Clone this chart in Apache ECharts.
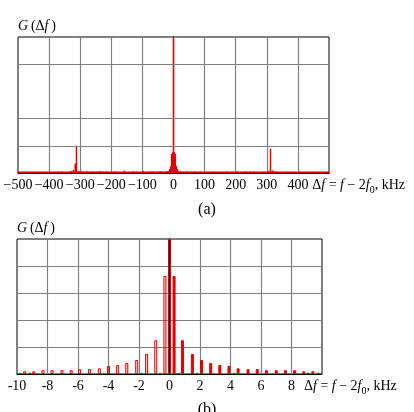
<!DOCTYPE html>
<html>
<head>
  <meta charset="utf-8">
  <title>spectrum</title>
  <script src="https://cdn.jsdelivr.net/npm/echarts@6/dist/echarts.min.js"></script>
  <style>
    html, body { margin: 0; padding: 0; background: #fff; }
    #main { width: 414px; height: 412px; }
  </style>
</head>
<body>
  <div id="main"></div>
  <script type="text/javascript">
    // (a) spectrum, -500..500 kHz
    var freqA = [0, -3, 3, -6, 6, -9, 9, -12, 12, -16, 16,
      -312, -316, -322, -305, 312, 306, 318, 324,
      -397, -370, -360, -340, -330, -295, -288, -279, -270, -258, -247, -236, -228, -215, -200,
      -188, -175, -158, -140, -129, -118, -108, -97, -81, -72, -65, -52, -43, -35, -22,
      22, 30, 42, 55, 68, 85, 100, 128, 150, 171, 190, 205, 214, 230, 245, 257, 275, 290,
      332, 348, 364, 385, 407, 430, 450, 471, 490]
    var ampA = [5, 0.76, 0.76, 0.7, 0.7, 0.25, 0.25, 0.15, 0.15, 0.08, 0.08,
      1.0, 0.35, 0.12, 0.08, 0.9, 0.08, 0.1, 0.06,
      0.05, 0.05, 0.06, 0.04, 0.08, 0.06, 0.05, 0.07, 0.05, 0.06, 0.05, 0.07, 0.05, 0.06, 0.04,
      0.06, 0.04, 0.09, 0.04, 0.06, 0.05, 0.04, 0.07, 0.05, 0.06, 0.06, 0.05, 0.07, 0.05, 0.07,
      0.06, 0.05, 0.07, 0.05, 0.06, 0.05, 0.04, 0.05, 0.04, 0.06, 0.04, 0.07, 0.05, 0.06, 0.05, 0.06, 0.04, 0.05,
      0.05, 0.04, 0.05, 0.04, 0.05, 0.04, 0.05, 0.05, 0.04]
    // 噪声底
    var floorX = [-500, 500]
    var floorY = [0.03, 0.03]
    // (a) 的水平网格线 (3 那一条没有)
    var gridLinesA = [1, 2, 4]

    // (b) spectrum, -10..10 kHz
    var freqB = [-9.8, -9.5, -9.15, -8.9, -8.3, -7.7, -7.05, -6.45, -5.9, -5.25, -4.6, -4.3, -4.0,
      -3.4, -2.8, -2.15, -1.85, -1.5, -0.9, -0.6, -0.3, 0, 0.3, 0.6, 0.85, 1.5, 1.8, 2.1, 2.7,
      3.3, 3.9, 4.25, 4.5, 5.15, 5.75, 6.35, 7.0, 7.6, 8.2, 8.8, 9.1, 9.4, 9.75]
    var ampB = [0.04, 0.1, 0.05, 0.1, 0.14, 0.14, 0.14, 0.14, 0.18, 0.18, 0.21, 0.04, 0.3,
      0.33, 0.41, 0.52, 0.04, 0.74, 1.25, 0.04, 3.63, 5, 3.63, 0.04, 1.25, 0.74, 0.04, 0.52, 0.41,
      0.33, 0.3, 0.04, 0.21, 0.18, 0.18, 0.14, 0.14, 0.14, 0.14, 0.1, 0.05, 0.1, 0.05]

    var RED = '#e00000'
    var GRAY = '#808080'
    var FONT = 'Liberation Serif'

    function pairs(xs, ys) {
      var out = []
      for (var i = 0; i < xs.length; i++) out.push([xs[i], ys[i]])
      return out
    }

    var dataB = []
    for (var i = 0; i < freqB.length; i++) {
      dataB.push({
        value: [freqB[i], ampB[i]],
        itemStyle: { color: freqB[i] > 0.1 ? RED : 'rgba(230,0,0,0.12)' }
      })
    }

    var xName = '{d|\u0394}{i|f} = {i|f} \u2212 2{i|f}{s|0}, kHz'
    var yName = '{i|G}\u2009(\u0394{i|f}\u2009)'
    var rich = {
      i: { fontFamily: FONT, fontSize: 14, fontStyle: 'italic', color: '#000' },
      d: { fontFamily: FONT, fontSize: 14, color: '#000' },
      s: { fontFamily: FONT, fontSize: 10, color: '#000', padding: [9, 0, 0, 0] }
    }

    function xAxisCfg(idx, min, max, step, minus, gap) {
      return {
        gridIndex: idx, type: 'value', min: min, max: max, interval: step,
        axisLine: { show: true, onZero: false, lineStyle: { color: '#000', width: 1 } },
        axisTick: { show: false },
        axisLabel: {
          margin: 5, color: '#000', fontFamily: FONT, fontSize: 14,
          formatter: function (v) {
            if (v === max) return ''
            return minus ? String(v).replace('-', '\u2212') : String(v)
          }
        },
        splitLine: { show: true, showMinLine: false, showMaxLine: false, lineStyle: { color: GRAY, width: 1.2 } },
        name: xName, nameLocation: 'end', nameGap: gap,
        nameTextStyle: { fontFamily: FONT, fontSize: 14, color: '#000', align: 'left', verticalAlign: 'top', padding: [3, 0, 0, 0], rich: rich }
      }
    }

    function yAxisCfg(idx, split) {
      return {
        gridIndex: idx, type: 'value', min: 0, max: 5, interval: 1,
        axisLine: { show: true, lineStyle: { color: '#000', width: 1 } },
        axisTick: { show: false },
        axisLabel: { show: false },
        splitLine: { show: split, showMinLine: false, showMaxLine: false, lineStyle: { color: GRAY, width: 1.2 } }
      }
    }

    var titleStyle = { fontFamily: FONT, fontSize: 16, fontWeight: 'normal', color: '#000' }
    var nameStyle = { fontFamily: FONT, fontSize: 14, fontWeight: 'normal', color: '#000', rich: rich }

    var myChart = echarts.init(document.getElementById('main'), null, { renderer: 'canvas' })

    var option = {
      backgroundColor: '#fff',
      animation: false,
      title: [
        { text: '(a)', left: 'center', top: 202, padding: 0, textStyle: titleStyle },
        { text: '(b)', left: 'center', top: 402, padding: 0, textStyle: titleStyle },
        { text: yName, left: 18, top: 19, padding: 0, textStyle: nameStyle },
        { text: yName, left: 17, top: 221, padding: 0, textStyle: nameStyle }
      ],
      grid: [
        { left: 18, width: 311, top: 37, height: 136, show: true, borderColor: '#000', borderWidth: 1, backgroundColor: 'transparent' },
        { left: 17, width: 305, top: 239, height: 135, show: true, borderColor: '#000', borderWidth: 1, backgroundColor: 'transparent' }
      ],
      xAxis: [xAxisCfg(0, -500, 500, 100, true, -17), xAxisCfg(1, -10, 10, 2, false, -18)],
      yAxis: [yAxisCfg(0, false), yAxisCfg(1, true)],
      series: [
        {
          // 噪声底 + (a) 的网格线
          type: 'line', xAxisIndex: 0, yAxisIndex: 0, z: 1,
          data: pairs(floorX, floorY), symbol: 'none',
          lineStyle: { color: RED, width: 1.5 },
          markLine: {
            silent: true, symbol: 'none', label: { show: false },
            lineStyle: { color: GRAY, width: 1.2, type: 'solid' },
            data: gridLinesA.map(function (v) { return { yAxis: v } })
          }
        },
        {
          type: 'bar', xAxisIndex: 0, yAxisIndex: 0, z: 3,
          data: pairs(freqA, ampA), barWidth: 1.5,
          itemStyle: { color: RED }
        },
        {
          type: 'bar', xAxisIndex: 1, yAxisIndex: 1, z: 3,
          data: dataB, barWidth: 3,
          itemStyle: { borderColor: RED, borderWidth: 1 }
        }
      ]
    }

    myChart.setOption(option)
  </script>
</body>
</html>
